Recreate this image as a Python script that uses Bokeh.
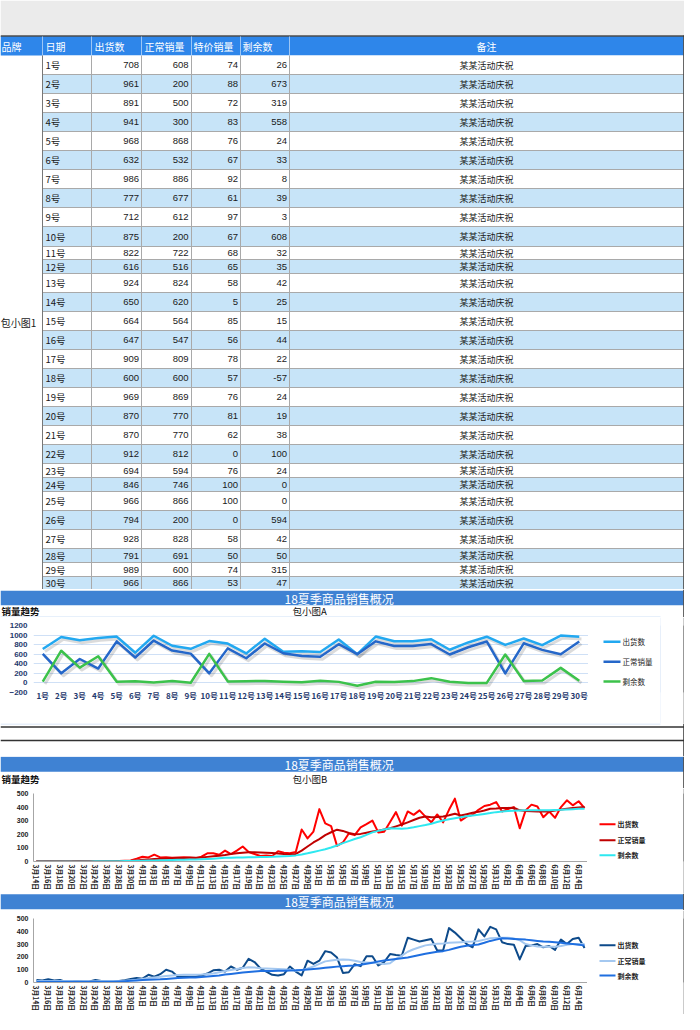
import math
from bokeh.plotting import figure
from bokeh.models import ColumnDataSource, Range1d, FactorRange, FixedTicker
from bokeh.layouts import column, row
from bokeh.embed import file_html
from bokeh.resources import INLINE
from bokeh.core.properties import value
from bokeh.transform import dodge

CJK = "Noto Sans CJK SC"
NUM = "Liberation Sans"

# ---------------- data ----------------
brand_name = "包小图1"
header_labels = ["品牌", "日期", "出货数", "正常销量", "特价销量", "剩余数", "备注"]
days = ["1号", "2号", "3号", "4号", "5号", "6号", "7号", "8号", "9号", "10号",
        "11号", "12号", "13号", "14号", "15号", "16号", "17号", "18号", "19号", "20号",
        "21号", "22号", "23号", "24号", "25号", "26号", "27号", "28号", "29号", "30号"]
shipped = [708, 961, 891, 941, 968, 632, 986, 777, 712, 875, 822, 616, 924, 650, 664,
           647, 909, 600, 969, 870, 870, 912, 694, 846, 966, 794, 928, 791, 989, 966]
normal_sales = [608, 200, 500, 300, 868, 532, 886, 677, 612, 200, 722, 516, 824, 620, 564,
                547, 809, 600, 869, 770, 770, 812, 594, 746, 866, 200, 828, 691, 600, 866]
special_sales = [74, 88, 72, 83, 76, 67, 92, 61, 97, 67, 68, 65, 58, 5, 85,
                 56, 78, 57, 76, 81, 62, 0, 76, 100, 100, 0, 58, 50, 74, 53]
remaining = [26, 673, 319, 558, 24, 33, 8, 39, 3, 608, 32, 35, 42, 25, 15,
             44, 22, -57, 24, 19, 38, 100, 24, 0, 0, 594, 42, 50, 315, 47]
remark = "某某活动庆祝"

chart_title = "18夏季商品销售概况"
trend_label = "销量趋势"
sub_a = "包小图A"
sub_b = "包小图B"
series_names = ["出货数", "正常销量", "剩余数"]
yticks_a = [-200, 0, 200, 400, 600, 800, 1000, 1200]
yticks_bc = [0, 100, 200, 300, 400, 500]

date_tick_labels = ["3月14日", "3月16日", "3月18日", "3月20日", "3月22日", "3月24日", "3月26日",
                    "3月28日", "3月30日", "4月1日", "4月3日", "4月5日", "4月7日", "4月9日",
                    "4月11日", "4月13日", "4月15日", "4月17日", "4月19日", "4月21日", "4月23日",
                    "4月25日", "4月27日", "4月29日", "5月1日", "5月3日", "5月5日", "5月7日",
                    "5月9日", "5月11日", "5月13日", "5月15日", "5月17日", "5月19日", "5月21日",
                    "5月23日", "5月25日", "5月27日", "5月29日", "5月31日", "6月2日", "6月4日",
                    "6月6日", "6月8日", "6月10日", "6月12日", "6月14日"]

b_ship = [3, 2, 4, 1, 2, 0, 1, 3, 2, 1, 0, 2, 3, 1, 4, 6,
          8, 20, 35, 30, 50, 30, 32, 28, 30, 32, 30, 25, 35, 60, 60, 50,
          80, 55, 80, 110, 70, 55, 40, 45, 40, 75, 65, 60, 70, 235, 170, 220,
          385, 280, 260, 115, 140, 206, 194, 251, 275, 301, 214, 219, 290, 363, 264, 368,
          343, 376, 330, 288, 346, 288, 380, 462, 301, 330, 343, 380, 408, 418, 437, 368,
          385, 400, 244, 376, 418, 405, 326, 368, 321, 400, 450, 413, 443, 393]
b_normal = [2, 2, 2, 2, 2, 2, 2, 2, 1, 1, 1, 2, 2, 2, 3, 3,
            5, 8, 12, 15, 18, 20, 22, 24, 25, 26, 27, 28, 30, 34, 38, 42,
            48, 55, 60, 65, 68, 68, 67, 65, 62, 58, 55, 54,
            56, 80, 110, 140, 165, 194, 215, 234, 225, 210, 200, 203,
            212, 220, 226, 235, 245, 258, 272, 288, 305, 322, 331, 326, 328, 331, 340,
            351, 338, 348, 358, 365, 375, 388, 390, 393, 394, 395, 376, 372, 370, 368,
            368, 368, 375, 383, 388, 393, 397, 400]
b_remain = [0, 0, 0, 0, 0, 0, 0, 0, 0, 0, 1, 1, 1, 2, 2, 3,
            4, 5, 6, 7, 8, 9, 10, 11, 12, 13, 14, 15, 17, 19, 21, 24,
            27, 28, 29, 30, 31, 32, 33, 34, 35, 37, 39, 41, 45, 52, 60, 70,
            80, 90, 103, 118, 135, 150, 165, 178, 196, 214, 225, 235, 244, 242, 240, 245,
            252, 260, 268, 278, 290, 301, 310, 318, 326, 332, 338, 343, 350, 356, 363, 367,
            371, 373, 375, 376, 376, 376, 376, 376, 378, 380, 383, 385, 387, 388]

c_ship = [20, 15, 25, 15, 20, 5, 10, 8, 6, 8, 20, 12, 10, 8, 12, 18,
          28, 35, 30, 60, 45, 65, 100, 85, 45, 45, 45, 45, 55, 70, 95, 100,
          85, 125, 100, 115, 185, 160, 110, 85, 60, 55, 65, 125, 85, 55, 170, 145,
          170, 245, 235, 195, 75, 80, 143, 128, 205, 205, 133, 160, 222, 215, 210, 350,
          335, 320, 330, 340, 250, 250, 425, 390, 345, 300, 275, 415, 360, 435, 415, 315,
          300, 295, 180, 285, 290, 300, 275, 285, 255, 335, 300, 340, 350, 270]
c_normal = [12, 12, 12, 12, 12, 12, 12, 10, 10, 10, 10, 12, 12, 12, 12, 14,
            18, 22, 28, 35, 40, 45, 50, 55, 58, 60, 60, 60, 62, 66, 70, 80,
            90, 98, 106, 114, 120, 118, 112, 110, 108, 106, 104, 100, 92, 95, 110, 125,
            145, 165, 172, 178, 180, 177, 170, 160, 157, 155, 150, 145, 150, 185, 210, 240,
            260, 275, 290, 297, 302, 305, 310, 313, 315, 318, 320, 325, 335, 345, 348, 350,
            350, 345, 330, 300, 290, 282, 280, 280, 280, 285, 295, 300, 300, 300]
c_remain = [5, 5, 5, 5, 5, 5, 5, 5, 5, 5, 5, 6, 6, 6, 8, 10,
            13, 16, 20, 22, 24, 25, 28, 31, 35, 37, 39, 40, 43, 46, 50, 55,
            62, 67, 72, 78, 82, 86, 90, 90, 90, 91, 92, 94, 95, 98, 102, 106,
            110, 115, 120, 124, 127, 130, 133, 138, 146, 155, 165, 172, 177, 183, 189, 195,
            205, 215, 225, 233, 240, 245, 255, 268, 280, 287, 292, 297, 310, 325, 335, 345,
            343, 340, 338, 335, 330, 325, 320, 318, 315, 310, 305, 300, 295, 290]

# ---------------- styles ----------------
BAR_BLUE = "#3f82d3"
HEAD_BLUE = "#2e86ea"
ROW_BLUE = "#c7e4f8"
GRID_GRAY = "#a9a9a9"
DARK = "#333333"
BOX_BLUE = "#cfe0f6"
COLORS_A = ["#22a8f0", "#2567c9", "#3cc24b"]
COLORS_B = ["#ff0000", "#c00000", "#2ee8f0"]
COLORS_C = ["#0d4a8a", "#a4c8f0", "#1f6fe0"]


def canvas(y0, y1, width=684, x0=8):
    p = figure(width=width, height=y1 - y0, x_range=Range1d(x0, x0 + width),
               y_range=Range1d(y1, y0), output_backend="svg", toolbar_location=None,
               min_border=0, x_axis_location=None, y_axis_location=None)
    p.grid.visible = False
    p.outline_line_color = None
    p.background_fill_color = "white"
    p.border_fill_color = "white"
    return p


def solid(width, height, color, bt=0, bb=0):
    p = figure(width=width, height=height, output_backend="svg", toolbar_location=None,
               min_border_left=0, min_border_right=0, min_border_top=bt, min_border_bottom=bb,
               x_axis_location=None, y_axis_location=None)
    p.grid.visible = False
    p.outline_line_color = None
    p.background_fill_color = color
    p.border_fill_color = color
    return p


# ---------------- table ----------------
pT = canvas(8, 597)
pT.quad(left=8, right=692, top=8, bottom=43, fill_color="#ebebeb", line_color=None)
pT.quad(left=8, right=691, top=43.5, bottom=63, fill_color=HEAD_BLUE, line_color=None)
pT.segment(x0=8, y0=43.5, x1=692, y1=43.5, line_color="#4a4a4a", line_width=1.5)

row_heights = [19] * 9 + [20] + [13, 14] + [19] * 10 + [14, 14] + [19] * 3 + [14, 14, 13]
tops, bottoms = [], []
yy = 63
for h in row_heights:
    tops.append(yy)
    yy += h
    bottoms.append(yy)
mids = [(t + b) / 2 for t, b in zip(tops, bottoms)]
fills = ["white" if i % 2 == 0 else ROW_BLUE for i in range(len(days))]

pT.quad(left=50, right=691, top=tops, bottom=bottoms, fill_color=fills, line_color=None)
pT.segment(x0=50, y0=bottoms, x1=691, y1=bottoms, line_color=GRID_GRAY, line_width=1)
inner_cols = [99, 149, 199, 248, 297]
pT.segment(x0=inner_cols, y0=63, x1=inner_cols, y1=597, line_color=GRID_GRAY, line_width=1)
pT.segment(x0=inner_cols, y0=44, x1=inner_cols, y1=63, line_color="#9cc6f5", line_width=1)
pT.segment(x0=50, y0=44, x1=50, y1=63, line_color="#9cc6f5", line_width=1)
pT.segment(x0=50, y0=63, x1=50, y1=597, line_color="#777777", line_width=1)
pT.segment(x0=691.5, y0=43, x1=691.5, y1=597, line_color=DARK, line_width=1.5)

pT.text(x=[9, 53, 102, 152, 201, 250], y=53.5, text=header_labels[:6],
        text_font=value(CJK), text_font_size="10px", text_color="white",
        text_align="left", text_baseline="middle")
pT.text(x=494, y=53.5, text=[header_labels[6]], text_font=value(CJK), text_font_size="10px",
        text_color="white", text_align="center", text_baseline="middle")
pT.text(x=26, y=330, text=[brand_name], text_font=value(CJK), text_font_size="10px",
        text_color="#1a1a1a", text_align="center", text_baseline="middle")
pT.text(x=53, y=mids, text=days, text_font=value(CJK), text_font_size="9.5px",
        text_color="#1a1a1a", text_align="left", text_baseline="middle")
for col_right, vals in zip([146.5, 196, 245.5, 294.5],
                           [shipped, normal_sales, special_sales, remaining]):
    pT.text(x=col_right, y=mids, text=[str(v) for v in vals], text_font=value(NUM),
            text_font_size="9.5px", text_color="#1a1a1a", text_align="right",
            text_baseline="middle")
pT.text(x=494, y=mids, text=[remark] * len(days), text_font=value(CJK), text_font_size="9px",
        text_color="#1a1a1a", text_align="center", text_baseline="middle")


# ---------------- section heads ----------------
def head(y0, y1, bar_top, bar_bottom, subtitle=None, sub_y=None):
    p = canvas(y0, y1)
    p.quad(left=8, right=691, top=bar_top, bottom=bar_bottom, fill_color=BAR_BLUE, line_color=None)
    p.text(x=346.7, y=(bar_top + bar_bottom) / 2, text=[chart_title], text_font=value(CJK),
           text_font_size="12px", text_color="white", text_align="center",
           text_baseline="middle")
    if subtitle:
        p.text(x=9, y=sub_y, text=[trend_label], text_font=value(CJK), text_font_size="9.5px",
               text_font_style="bold", text_color="#111", text_align="left",
               text_baseline="middle")
        p.text(x=300, y=sub_y, text=[subtitle], text_font=value(CJK), text_font_size="9.5px",
               text_color="#111", text_align="left", text_baseline="middle")
    p.segment(x0=691.5, y0=y0, x1=691.5, y1=y1, line_color=DARK, line_width=1.5)
    return p


pAh = head(597, 625, 598.3, 612.7, sub_a, 618.5)
pAh.segment(x0=8, y0=624.5, x1=668, y1=624.5, line_color=BOX_BLUE, line_width=1)

pAf = canvas(731, 764)
pAf.segment(x0=8, y0=731.5, x1=668, y1=731.5, line_color=BOX_BLUE, line_width=1)
pAf.segment(x0=8, y0=[734.5, 748], x1=692, y1=[734.5, 748], line_color=DARK, line_width=1.5)
pAf.segment(x0=691.5, y0=731, x1=691.5, y1=764, line_color=DARK, line_width=1.5)

pBh = head(764, 796, 764.3, 779.3, sub_b, 786)
pCh = head(901, 918, 901.7, 916.7)


# ---------------- legends (drawn beside each chart, frame aligned with the chart) ----------------
def legend_panel(height, bt, bb, frame_top, frame_bottom, x0, width, centers, gx0, gx1,
                 colors, lw, fsize, bold):
    p = figure(width=width, height=height, x_range=Range1d(x0, x0 + width),
               y_range=Range1d(frame_bottom, frame_top), output_backend="svg",
               toolbar_location=None, min_border_left=0, min_border_right=0,
               min_border_top=bt, min_border_bottom=bb,
               x_axis_location=None, y_axis_location=None)
    p.grid.visible = False
    p.outline_line_color = None
    p.background_fill_color = "white"
    p.border_fill_color = "white"
    p.segment(x0=gx0, y0=centers, x1=gx1, y1=centers, line_color=colors, line_width=lw)
    p.text(x=gx1 + 2, y=centers, text=series_names, text_font=value(CJK),
           text_font_size=fsize, text_font_style="bold" if bold else "normal",
           text_color="#222", text_align="left", text_baseline="middle")
    return p


def style_axis(ax, size, color, font):
    ax.major_tick_line_color = None
    ax.minor_tick_line_color = None
    ax.major_tick_out = 0
    ax.major_tick_in = 0
    ax.minor_tick_out = 0
    ax.minor_tick_in = 0
    ax.major_label_text_font_size = size
    ax.major_label_text_font_style = "bold"
    ax.major_label_text_color = color
    ax.major_label_text_font = font


# ---------------- chart A ----------------
srcA = ColumnDataSource(dict(day=days, ship=shipped, normal=normal_sales, remain=remaining))
pA = figure(width=588, height=106, x_range=FactorRange(factors=days),
            y_range=Range1d(-200, 1200), output_backend="svg", toolbar_location=None,
            min_border_left=33, min_border_right=0, min_border_top=8, min_border_bottom=31)
pA.outline_line_color = None
pA.xgrid.visible = False
pA.ygrid.ticker = FixedTicker(ticks=yticks_a)
pA.ygrid.grid_line_color = BOX_BLUE
pA.yaxis.ticker = FixedTicker(ticks=yticks_a)
style_axis(pA.xaxis[0], "8px", "#1f3a6e", CJK)
style_axis(pA.yaxis[0], "8px", "#1f3a6e", NUM)
pA.xaxis.axis_line_color = None
pA.yaxis.axis_line_color = None
pA.xaxis.major_label_standoff = -3
pA.yaxis.major_label_standoff = 6

cols = ["ship", "normal", "remain"]
for c in cols:
    pA.line(x=dodge("day", 0.12, range=pA.x_range), y=dodge(c, -50), source=srcA,
            line_color="black", line_alpha=0.14, line_width=3, line_join="round")
for c, col in zip(cols, COLORS_A):
    pA.line(x="day", y=c, source=srcA, line_color=col, line_width=2.5, line_join="round")

legA = legend_panel(106, 8, 31, 633, 700, 596, 72, [649.3, 669.3, 689], 611, 628,
                    COLORS_A, 2.5, "7.5px", False)


# ---------------- charts B / C ----------------
def daily_chart(height, top_b, bottom_b, ship, normal, remain, colors):
    idx = list(range(len(ship)))
    src = ColumnDataSource(dict(d=idx, ship=ship, normal=normal, remain=remain))
    p = figure(width=587, height=height, x_range=Range1d(-0.5, len(ship) - 0.5),
               y_range=Range1d(0, 500), output_backend="svg", toolbar_location=None,
               min_border_left=33, min_border_right=0, min_border_top=top_b,
               min_border_bottom=bottom_b)
    p.outline_line_color = None
    p.grid.visible = False
    tick_pos = list(range(0, len(ship), 2))[:len(date_tick_labels)]
    p.xaxis.ticker = FixedTicker(ticks=tick_pos)
    p.xaxis.major_label_overrides = {t: lab for t, lab in zip(tick_pos, date_tick_labels)}
    p.xaxis.major_label_orientation = -math.pi / 2
    p.yaxis.ticker = FixedTicker(ticks=yticks_bc)
    style_axis(p.xaxis[0], "6.8px", "#222", CJK)
    style_axis(p.yaxis[0], "7px", "#222", NUM)
    p.xaxis.axis_line_color = "#a6a6a6"
    p.yaxis.axis_line_color = "#a6a6a6"
    p.xaxis.major_label_standoff = 3
    p.yaxis.major_label_standoff = 5
    for c, col in zip(["ship", "normal", "remain"], colors):
        p.line(x="d", y=c, source=src, line_color=col, line_width=2, line_join="round")
    return p


pB = daily_chart(105, 5, 32, b_ship, b_normal, b_remain, COLORS_B)
legB = legend_panel(105, 5, 32, 801, 869, 595, 96, [831.7, 847.7, 862.7], 607, 623,
                    COLORS_B, 2, "7px", True)
pC = daily_chart(104, 8, 29, c_ship, c_normal, c_remain, COLORS_C)
legC = legend_panel(104, 8, 29, 926, 993, 595, 96, [954, 970.5, 985.7], 607, 623,
                    COLORS_C, 2, "7px", True)

layout = column(
    pT,
    pAh,
    row(pA, legA, solid(1, 106, BOX_BLUE), solid(22, 106, "white", 8, 31),
        solid(1, 106, DARK)),
    pAf,
    pBh,
    row(pB, legB, solid(1, 105, DARK)),
    pCh,
    row(pC, legC, solid(1, 104, DARK)),
)

open("out.html", "w").write(file_html(layout, INLINE))
